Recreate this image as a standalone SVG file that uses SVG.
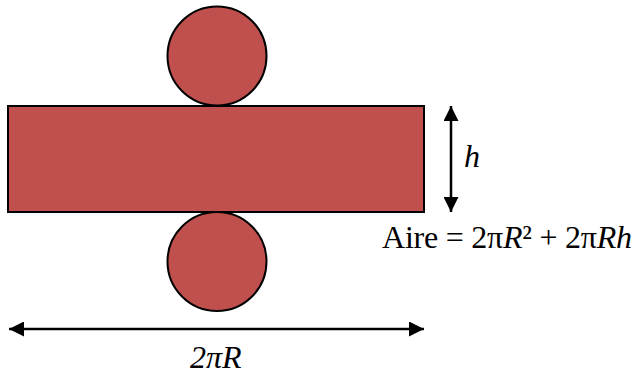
<svg xmlns="http://www.w3.org/2000/svg" width="636" height="374" viewBox="0 0 636 374">
<defs>
<style>
.shape{fill:#C0504D;stroke:#000;stroke-width:2}
.conn{stroke:#000;stroke-width:2.5;fill:none}
.lbl{font-family:"Liberation Serif","Times New Roman",serif;fill:#000;font-size:32px}
.i{font-style:italic}
</style>
<marker id="ah" viewBox="0 0 10 10" refX="10" refY="5" markerWidth="6" markerHeight="6" markerUnits="strokeWidth" orient="auto-start-reverse">
<path d="M0,0 L10,5 L0,10 z" fill="#000"/>
</marker>
</defs>
<rect width="636" height="374" fill="#fff"/>
<g id="rectangle"><rect class="shape" x="8" y="106" width="416" height="106"/></g>
<g id="topCircle"><circle class="shape" cx="217" cy="56" r="49.5"/></g>
<g id="bottomCircle"><circle class="shape" cx="217" cy="261.5" r="49.5"/></g>
<g id="connectors">
<line class="conn" x1="451" y1="106" x2="451" y2="212" marker-start="url(#ah)" marker-end="url(#ah)"/>
<line class="conn" x1="9" y1="329" x2="424" y2="329" marker-start="url(#ah)" marker-end="url(#ah)"/>
</g>
<g id="labels">
<text class="lbl i" x="464" y="167">h</text>
<text class="lbl" x="382" y="248" textLength="250" lengthAdjust="spacing">Aire = 2π<tspan class="i">R</tspan>² + 2π<tspan class="i">Rh</tspan></text>
<text class="lbl i" x="190" y="368">2πR</text>
</g>
</svg>
